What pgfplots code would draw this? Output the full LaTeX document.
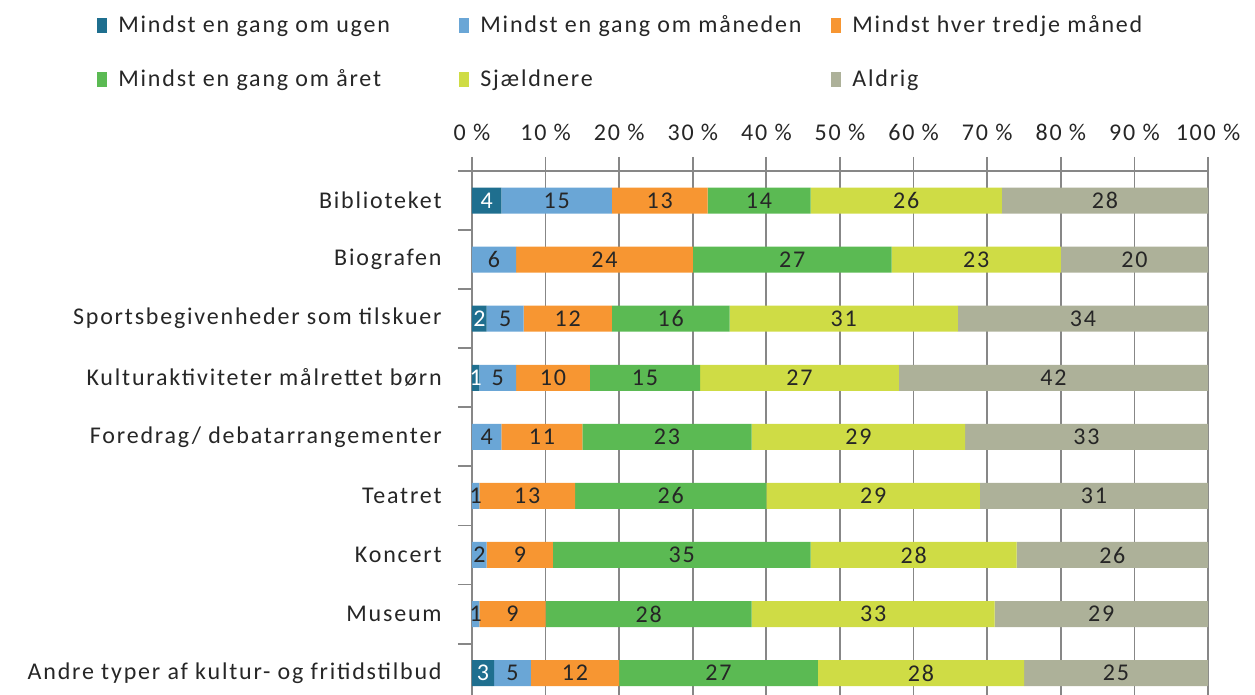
\documentclass[border=0pt]{standalone}
\usepackage{fontspec}
\setmainfont{Carlito}[LetterSpace=7.5]
\usepackage{pgfplots}
\usepackage{pgfplotstable}
\pgfplotsset{compat=1.18}
\definecolor{cA}{RGB}{31,111,143}
\definecolor{cB}{RGB}{106,166,214}
\definecolor{cC}{RGB}{247,150,50}
\definecolor{cD}{RGB}{91,186,83}
\definecolor{cE}{RGB}{207,220,69}
\definecolor{cF}{RGB}{173,177,153}
\definecolor{gridc}{RGB}{135,135,135}
\definecolor{txt}{RGB}{38,38,38}

\pgfplotstableread{
cat a b c d e f
0 4 15 13 14 26 28
1 0 6 24 27 23 20
2 2 5 12 16 31 34
3 1 5 10 15 27 42
4 0 4 11 23 29 33
5 0 1 13 26 29 31
6 0 2 9 35 28 26
7 0 1 9 28 33 29
8 3 5 12 27 28 25
}\data
\pgfplotstablecreatecol[create col/expr={\thisrow{a}/2}]{ma}\data
\pgfplotstablecreatecol[create col/expr={\thisrow{a}+\thisrow{b}/2}]{mb}\data
\pgfplotstablecreatecol[create col/expr={\thisrow{a}+\thisrow{b}+\thisrow{c}/2}]{mc}\data
\pgfplotstablecreatecol[create col/expr={\thisrow{a}+\thisrow{b}+\thisrow{c}+\thisrow{d}/2}]{md}\data
\pgfplotstablecreatecol[create col/expr={\thisrow{a}+\thisrow{b}+\thisrow{c}+\thisrow{d}+\thisrow{e}/2}]{me}\data
\pgfplotstablecreatecol[create col/expr={\thisrow{a}+\thisrow{b}+\thisrow{c}+\thisrow{d}+\thisrow{e}+\thisrow{f}/2}]{mf}\data

\pgfplotsset{
  /pgf/number format/assume math mode=true,
  sq/.style={fill=#1, draw=none, legend image code/.code={\fill[#1] (0pt,-3.75pt) rectangle (5pt,3.75pt);}},
}

\begin{document}
\begin{tikzpicture}[font=\fontsize{12}{14}\selectfont]
\useasboundingbox (0,0) rectangle (627.5pt,347.5pt);
\begin{axis}[
  at={(236pt,262pt)}, anchor=north west,
  scale only axis, width=368pt, height=262pt,
  xbar stacked, bar width=13pt,
  xmin=0, xmax=100, ymin=-0.5, ymax=8.37, y dir=reverse,
  axis x line*=top, axis y line*=left,
  axis line style={draw=gridc, line width=0.9pt, -},
  xtick={0,10,...,100},
  xticklabels={0 \%,10 \%,20 \%,30 \%,40 \%,50 \%,60 \%,70 \%,80 \%,90 \%,100 \%},
  xmajorgrids, grid style={draw=gridc, line width=0.9pt},
  ytick={-0.5,0.5,...,7.5}, yticklabel={\mbox{}},
  tick align=outside, major tick length=7pt,
  tick style={draw=gridc, line width=0.9pt},
  xticklabel style={inner sep=0pt, yshift=8pt, text=txt},
  legend columns=3,
  legend style={draw=none, fill=none, at={(-0.5095,1.298)}, anchor=north west,
    inner sep=0pt, row sep=17pt, column sep=0pt,
    nodes={inner sep=0pt, anchor=west, text=txt},
    /tikz/every odd column/.append style={column sep=5.5pt}},
]
\addplot[sq=cA] table[x=a, y=cat] {\data};
\addplot[sq=cB] table[x=b, y=cat] {\data};
\addplot[sq=cC] table[x=c, y=cat] {\data};
\addplot[sq=cD] table[x=d, y=cat] {\data};
\addplot[sq=cE] table[x=e, y=cat] {\data};
\addplot[sq=cF] table[x=f, y=cat] {\data};
\legend{\makebox[170.5pt][l]{Mindst en gang om ugen},
        \makebox[175.5pt][l]{Mindst en gang om måneden},
        \makebox[174.5pt][l]{Mindst hver tredje måned},
        \makebox[170.5pt][l]{Mindst en gang om året},
        \makebox[175.5pt][l]{Sjældnere},
        \makebox[174.5pt][l]{Aldrig}}
\end{axis}
\begin{axis}[
  at={(236pt,262pt)}, anchor=north west,
  scale only axis, width=368pt, height=262pt,
  xmin=0, xmax=100, ymin=-0.5, ymax=8.37, y dir=reverse,
  hide x axis, axis y line*=left, y axis line style={draw=none},
  ytick={0,...,8},
  yticklabels={Biblioteket,Biografen,Sportsbegivenheder som tilskuer,Kulturaktiviteter målrettet børn,Foredrag/ debatarrangementer,Teatret,Koncert,Museum,Andre typer af kultur- og fritidstilbud},
  major tick length=0pt, ytick style={draw=none},
  yticklabel style={inner sep=0pt, xshift=-15pt, text=txt},
  clip=false, point meta=explicit,
  every node near coord/.append style={anchor=center, inner sep=0pt, text=txt},
]
\addplot[draw=none, mark=none, nodes near coords, restrict x to domain=0.1:100,
  every node near coord/.append style={text=white}] table[x=ma, y=cat, meta=a] {\data};
\addplot[draw=none, mark=none, nodes near coords] table[x=mb, y=cat, meta=b] {\data};
\addplot[draw=none, mark=none, nodes near coords] table[x=mc, y=cat, meta=c] {\data};
\addplot[draw=none, mark=none, nodes near coords] table[x=md, y=cat, meta=d] {\data};
\addplot[draw=none, mark=none, nodes near coords] table[x=me, y=cat, meta=e] {\data};
\addplot[draw=none, mark=none, nodes near coords] table[x=mf, y=cat, meta=f] {\data};
\end{axis}
\end{tikzpicture}
\end{document}
